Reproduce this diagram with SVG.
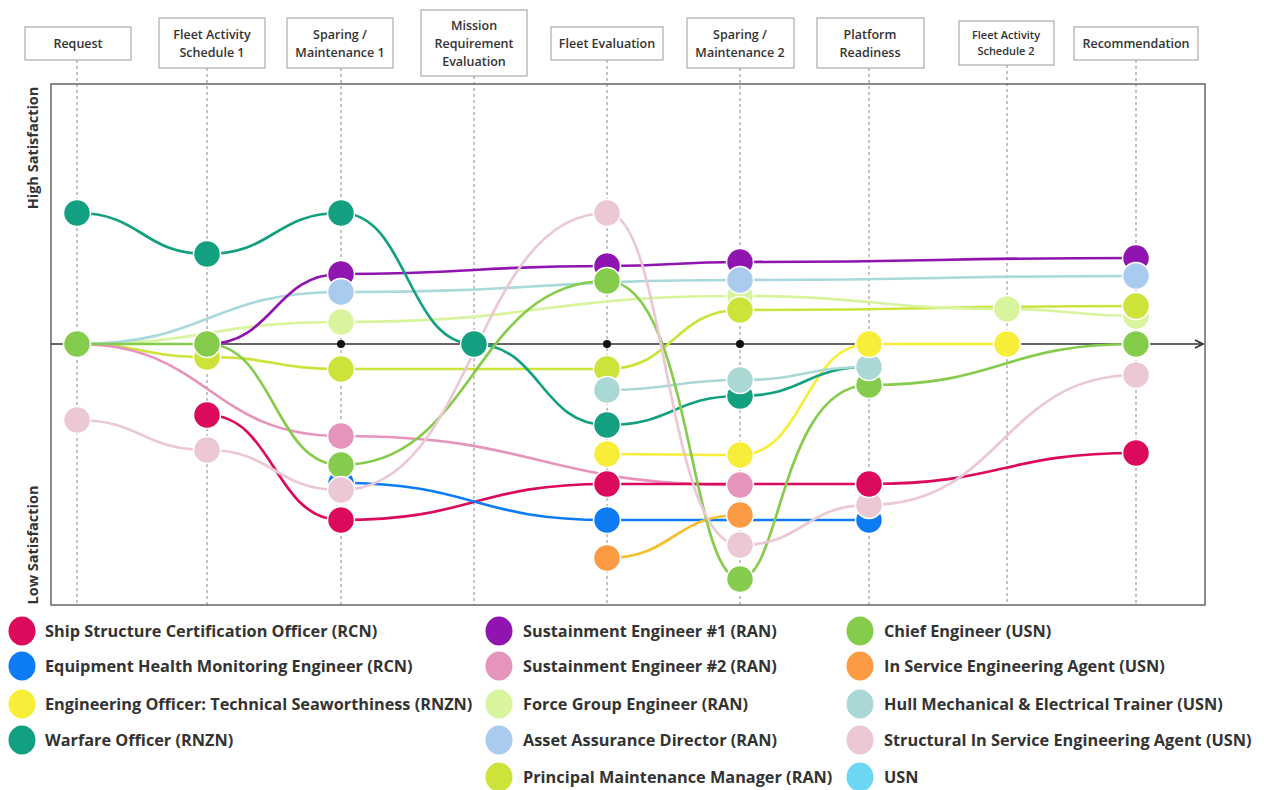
<svg xmlns="http://www.w3.org/2000/svg" width="1264" height="790" viewBox="0 0 1264 790">
  <style>
    text { font-family: "Open Sans", "Liberation Sans", sans-serif; font-weight: 600; fill: #333; }
    .hdr rect { fill: #fff; stroke: #9a9a9a; stroke-width: 1; }
    .hdr text { font-size: 12.5px; text-anchor: middle; }
    .guide { stroke: #8a8a8a; stroke-width: 1; stroke-dasharray: 3 3; fill: none; }
    .frame { fill: none; stroke: #666; stroke-width: 1.5; }
    .axis { stroke: #333; stroke-width: 1.6; fill: none; }
    .link { fill: none; stroke-width: 2.7; stroke-linecap: round; }
    .node circle { stroke: #fff; stroke-width: 1.5; }
    .legend text { font-size: 16.3px; font-weight: 700; }
    .ylab { font-size: 14.5px; font-weight: 700; text-anchor: middle; }
  </style>
  <defs>
    <marker id="arrow" viewBox="0 0 10 10" refX="9" refY="5" markerWidth="10" markerHeight="10" markerUnits="userSpaceOnUse" orient="auto">
      <path d="M1,1 L9,5 L1,9" fill="none" stroke="#333" stroke-width="1.6"/>
    </marker>
  </defs>

  <rect width="1264" height="790" fill="#fff"/>

  <!-- stage guides -->
  <g id="guides">
    <line class="guide" x1="77" y1="60" x2="77" y2="605"/>
    <line class="guide" x1="207" y1="68" x2="207" y2="605"/>
    <line class="guide" x1="341" y1="68" x2="341" y2="605"/>
    <line class="guide" x1="474" y1="76" x2="474" y2="605"/>
    <line class="guide" x1="607" y1="60" x2="607" y2="605"/>
    <line class="guide" x1="740" y1="68" x2="740" y2="605"/>
    <line class="guide" x1="869" y1="68" x2="869" y2="605"/>
    <line class="guide" x1="1007" y1="65" x2="1007" y2="605"/>
    <line class="guide" x1="1136" y1="60" x2="1136" y2="605"/>
  </g>

  <!-- stage headers -->
  <g id="stage-request" class="hdr"><rect x="25" y="27" width="106" height="33"/><text x="78" y="48">Request</text></g>
  <g id="stage-fas1" class="hdr"><rect x="159" y="18" width="106" height="50"/><text x="212" y="39">Fleet Activity</text><text x="212" y="57">Schedule 1</text></g>
  <g id="stage-sm1" class="hdr"><rect x="287" y="18" width="106" height="50"/><text x="340" y="39">Sparing /</text><text x="340" y="57">Maintenance 1</text></g>
  <g id="stage-mre" class="hdr"><rect x="421" y="10" width="106" height="66"/><text x="474" y="30">Mission</text><text x="474" y="48">Requirement</text><text x="474" y="66">Evaluation</text></g>
  <g id="stage-fe" class="hdr"><rect x="551" y="27" width="112" height="33"/><text x="607" y="48">Fleet Evaluation</text></g>
  <g id="stage-sm2" class="hdr"><rect x="687" y="18" width="107" height="50"/><text x="740" y="39">Sparing /</text><text x="740" y="57">Maintenance 2</text></g>
  <g id="stage-pr" class="hdr"><rect x="817" y="18" width="107" height="50"/><text x="870" y="39">Platform</text><text x="870" y="57">Readiness</text></g>
  <g id="stage-fas2" class="hdr"><rect x="959" y="21" width="95" height="44"/><text x="1006" y="39" style="font-size:11px">Fleet Activity</text><text x="1006" y="55" style="font-size:11px">Schedule 2</text></g>
  <g id="stage-rec" class="hdr"><rect x="1074" y="27" width="124" height="33"/><text x="1136" y="48">Recommendation</text></g>

  <!-- plot frame and axis -->
  <g id="frame">
    <rect class="frame" x="51" y="84" width="1154" height="521"/>
    <line class="axis" x1="51" y1="344" x2="1203" y2="344" marker-end="url(#arrow)"/>
    <text class="ylab" transform="translate(38,148) rotate(-90)">High Satisfaction</text>
    <text class="ylab" transform="translate(38,545) rotate(-90)">Low Satisfaction</text>
  </g>

  <!-- satisfaction journeys -->
  <g id="connectors">
    <path class="link" stroke="#cde33a" d="M77,344 C142,344 142,357 207,357 C274,357 274,369 341,369 L607,369 C673.5,369 673.5,310 740,310 C938,310 938,306 1136,306"/>
    <path class="link" stroke="#d8f49c" d="M77,344 C209,344 209,322 341,322 C540.5,322 540.5,296 740,296 C873.5,296 873.5,309 1007,309 C1071.5,309 1071.5,316 1136,316"/>
    <path class="link" stroke="#a9d9db" d="M77,344 C209,344 209,292 341,292 C540.5,292 540.5,280 740,280 C938,280 938,276 1136,276"/>
    <path class="link" stroke="#9014b0" d="M207,344 C274,344 274,274 341,274 C474,274 474,266 607,266 C673.5,266 673.5,262 740,262 C938,262 938,258 1136,258"/>
    <path class="link" stroke="#e794bd" d="M77,344 C209,344 209,436 341,436 C540.5,436 540.5,485 740,485"/>
    <path class="link" stroke="#dc0a5c" d="M207,415 C274,415 274,520 341,520 C474,520 474,484 607,484 L869,484 C1002.5,484 1002.5,453 1136,453"/>
    <path class="link" stroke="#0d7cf2" d="M341,483 C474,483 474,520 607,520 L869,520"/>
    <path class="link" stroke="#f6bf30" d="M607,558 C673.5,558 673.5,515 740,515"/>
    <path class="link" stroke="#f8ee3a" d="M607,454 C673.5,454 673.5,455 740,455 C804.5,455 804.5,344 869,344 L1007,344"/>
    <path class="link" stroke="#13a080" d="M77,213 C142,213 142,254 207,254 C274,254 274,213 341,213 C407.5,213 407.5,344 474,344 C540.5,344 540.5,425 607,425 C673.5,425 673.5,396 740,396 C804.5,396 804.5,367 869,367"/>
    <path class="link" stroke="#a9d8d5" d="M607,390 C673.5,390 673.5,380 740,380 C804.5,380 804.5,367 869,367"/>
    <path class="link" stroke="#86cc4c" d="M77,344 L207,344 C274,344 274,465 341,465 C474,465 474,281 607,281 C690,281 690,579 740,579 C781,579 781,385 869,385 C1002.5,385 1002.5,344 1136,344"/>
    <path class="link" stroke="#ebc8d4" d="M77,420 C142,420 142,450 207,450 C274,450 274,490 341,490 C474,490 474,213 607,213 C666,213 666,545 740,545 C804.5,545 804.5,505 869,505 C1002.5,505 1002.5,375 1136,375"/>
  </g>

  <!-- empty stage markers on the neutral axis -->
  <g id="axis-dots" fill="#111">
    <circle cx="341" cy="344" r="4"/>
    <circle cx="607" cy="344" r="4"/>
    <circle cx="740" cy="344" r="4"/>
  </g>

  <!-- stakeholder nodes, drawn back to front -->
  <g id="n-ehm" class="node" fill="#0d7cf2">
    <circle cx="341" cy="483" r="13.5"/><circle cx="607" cy="520" r="13.5"/><circle cx="869" cy="520" r="13.5"/>
  </g>
  <g id="n-se1" class="node" fill="#9014b0">
    <circle cx="341" cy="274" r="13.5"/><circle cx="607" cy="266" r="13.5"/><circle cx="740" cy="262" r="13.5"/><circle cx="1136" cy="258" r="13.5"/>
  </g>
  <g id="n-fge" class="node" fill="#d8f49c">
    <circle cx="341" cy="322" r="13.5"/><circle cx="740" cy="296" r="13.5"/><circle cx="1007" cy="309" r="13.5"/><circle cx="1136" cy="316" r="13.5"/>
  </g>
  <g id="n-pmm" class="node" fill="#cde33a">
    <circle cx="207" cy="357" r="13.5"/><circle cx="341" cy="369" r="13.5"/><circle cx="607" cy="369" r="13.5"/><circle cx="740" cy="310" r="13.5"/><circle cx="1136" cy="306" r="13.5"/>
  </g>
  <g id="n-warfare" class="node" fill="#13a080">
    <circle cx="77" cy="213" r="13.5"/><circle cx="207" cy="254" r="13.5"/><circle cx="341" cy="213" r="13.5"/><circle cx="474" cy="344" r="13.5"/><circle cx="607" cy="425" r="13.5"/><circle cx="740" cy="396" r="13.5"/>
  </g>
  <g id="n-chief" class="node" fill="#86cc4c">
    <circle cx="77" cy="344" r="13.5"/><circle cx="207" cy="344" r="13.5"/><circle cx="341" cy="465" r="13.5"/><circle cx="607" cy="281" r="13.5"/><circle cx="740" cy="579" r="13.5"/><circle cx="869" cy="385" r="13.5"/><circle cx="1136" cy="344" r="13.5"/>
  </g>
  <g id="n-aad" class="node" fill="#a9cbf0">
    <circle cx="341" cy="292" r="13.5"/><circle cx="740" cy="280" r="13.5"/><circle cx="1136" cy="276" r="13.5"/>
  </g>
  <g id="n-hme" class="node" fill="#a9d8d5">
    <circle cx="607" cy="390" r="13.5"/><circle cx="740" cy="380" r="13.5"/><circle cx="869" cy="367" r="13.5"/>
  </g>
  <g id="n-sisea" class="node" fill="#ebc8d4">
    <circle cx="77" cy="420" r="13.5"/><circle cx="207" cy="450" r="13.5"/><circle cx="341" cy="490" r="13.5"/><circle cx="607" cy="213" r="13.5"/><circle cx="740" cy="545" r="13.5"/><circle cx="869" cy="505" r="13.5"/><circle cx="1136" cy="375" r="13.5"/>
  </g>
  <g id="n-ssco" class="node" fill="#dc0a5c">
    <circle cx="207" cy="415" r="13.5"/><circle cx="341" cy="520" r="13.5"/><circle cx="607" cy="484" r="13.5"/><circle cx="869" cy="484" r="13.5"/><circle cx="1136" cy="453" r="13.5"/>
  </g>
  <g id="n-eots" class="node" fill="#f8ee3a">
    <circle cx="607" cy="454" r="13.5"/><circle cx="740" cy="455" r="13.5"/><circle cx="869" cy="344" r="13.5"/><circle cx="1007" cy="344" r="13.5"/>
  </g>
  <g id="n-se2" class="node" fill="#e794bd">
    <circle cx="341" cy="436" r="13.5"/><circle cx="740" cy="485" r="13.5"/>
  </g>
  <g id="n-isea" class="node" fill="#fd9b45">
    <circle cx="607" cy="558" r="13.5"/><circle cx="740" cy="515" r="13.5"/>
  </g>

  <!-- legend -->
  <g id="legend" class="legend">
    <ellipse cx="22" cy="631" rx="13.5" ry="14.5" fill="#dc0a5c"/><text x="45" y="637">Ship Structure Certification Officer (RCN)</text>
    <ellipse cx="22" cy="666" rx="13.5" ry="14.5" fill="#0d7cf2"/><text x="45" y="672">Equipment Health Monitoring Engineer (RCN)</text>
    <ellipse cx="22" cy="704" rx="13.5" ry="14.5" fill="#f8ee3a"/><text x="45" y="710">Engineering Officer: Technical Seaworthiness (RNZN)</text>
    <ellipse cx="22" cy="740" rx="13.5" ry="14.5" fill="#13a080"/><text x="45" y="746">Warfare Officer (RNZN)</text>

    <ellipse cx="499" cy="631" rx="13.5" ry="14.5" fill="#9014b0"/><text x="523" y="637">Sustainment Engineer #1 (RAN)</text>
    <ellipse cx="499" cy="666" rx="13.5" ry="14.5" fill="#e794bd"/><text x="523" y="672">Sustainment Engineer #2 (RAN)</text>
    <ellipse cx="499" cy="704" rx="13.5" ry="14.5" fill="#d8f49c"/><text x="523" y="710">Force Group Engineer (RAN)</text>
    <ellipse cx="499" cy="740" rx="13.5" ry="14.5" fill="#a9cbf0"/><text x="523" y="746">Asset Assurance Director (RAN)</text>
    <ellipse cx="499" cy="777" rx="13.5" ry="14.5" fill="#cde33a"/><text x="523" y="783">Principal Maintenance Manager (RAN)</text>

    <ellipse cx="860" cy="631" rx="13.5" ry="14.5" fill="#86cc4c"/><text x="884" y="637">Chief Engineer (USN)</text>
    <ellipse cx="860" cy="666" rx="13.5" ry="14.5" fill="#fd9b45"/><text x="884" y="672">In Service Engineering Agent (USN)</text>
    <ellipse cx="860" cy="704" rx="13.5" ry="14.5" fill="#a9d8d5"/><text x="884" y="710">Hull Mechanical &amp; Electrical Trainer (USN)</text>
    <ellipse cx="860" cy="740" rx="13.5" ry="14.5" fill="#ebc8d4"/><text x="884" y="746">Structural In Service Engineering Agent (USN)</text>
    <ellipse cx="860" cy="777" rx="13.5" ry="14.5" fill="#6dd6f2"/><text x="884" y="783">USN</text>
  </g>
</svg>
